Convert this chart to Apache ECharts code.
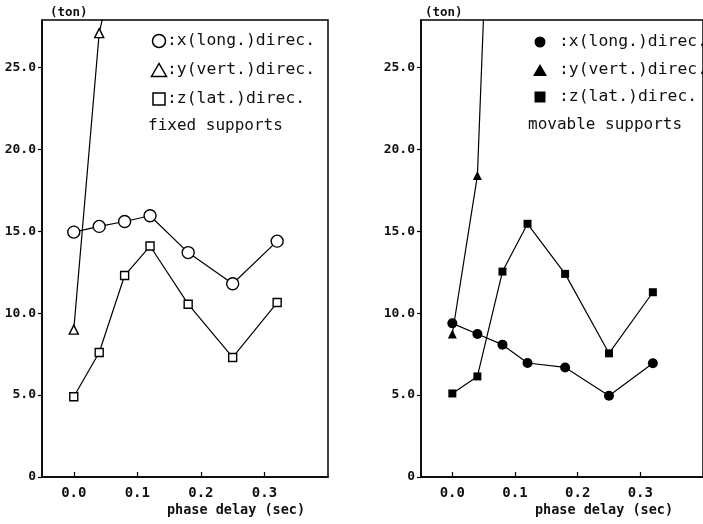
<!DOCTYPE html>
<html>
<head>
<meta charset="utf-8">
<script src="https://cdn.jsdelivr.net/npm/echarts@6/dist/echarts.min.js"></script>
<style>
  html, body { margin: 0; padding: 0; background: #fff; }
  #chart { width: 703px; height: 524px; }
</style>
</head>
<body>
<div id="chart"></div>
<script>
// Support reaction forces (ton) against phase delay (sec)
const phaseDelay = [0.0, 0.04, 0.08, 0.12, 0.18, 0.25, 0.32];

// fixed supports
const fixedX = [14.95, 15.3, 15.6, 15.95, 13.7, 11.8, 14.4];
const fixedY = [9.0, 27.1, 34.0];          // runs off the top after 0.04 s
const fixedZ = [4.9, 7.6, 12.3, 14.1, 10.55, 7.3, 10.65];

// movable supports
const movableX = [9.38, 8.73, 8.08, 6.96, 6.69, 4.96, 6.94];
const movableY = [8.73, 18.4, 58.0];       // runs off the top after 0.04 s
const movableZ = [5.1, 6.14, 12.54, 15.46, 12.4, 7.55, 11.28];

const xTicks = [0, 0.1, 0.2, 0.3];
const yTicks = [0, 5, 10, 15, 20, 25];
const legendLabels = [':x(long.)direc.', ':y(vert.)direc.', ':z(lat.)direc.'];
const panelTitles = ['fixed supports', 'movable supports'];
const unitLabel = '(ton)';
const xAxisTitle = 'phase delay (sec)';

const MONO = '"DejaVu Sans Mono", "Liberation Mono", monospace';
const INK = '#111';

const pairs = vals => vals.map((v, i) => [phaseDelay[i], v]);

// panel layout
const panels = [
  { left: 42, hollow: true, series: [fixedX, fixedY, fixedZ], title: panelTitles[0],
    symX: 159, textX: 167, titleX: 148, rows: [41, 70, 99, 126],
    unitX: 50, nameX: 236 },
  { left: 421, hollow: false, series: [movableX, movableY, movableZ], title: panelTitles[1],
    symX: 540, textX: 559, titleX: 528, rows: [42, 70, 97, 125],
    unitX: 425, nameX: 604 }
];

const grids = [], xAxes = [], yAxes = [], series = [], graphics = [];
const shapes = ['circle', 'triangle', 'rect'];

panels.forEach((p, k) => {
  grids.push({
    left: p.left, top: 20, width: 286, height: 457,
    show: true, borderColor: '#000', borderWidth: 1.5, backgroundColor: 'transparent'
  });
  xAxes.push({
    type: 'value', gridIndex: k, min: -0.05, max: 0.4,
    axisLine: { show: true, onZero: false, lineStyle: { color: '#000', width: 1.5 } },
    axisTick: { show: true, inside: true, length: 5, customValues: xTicks,
                lineStyle: { color: '#000', width: 1.2 } },
    axisLabel: { customValues: xTicks, formatter: v => v.toFixed(1), margin: 9,
                 fontFamily: MONO, fontSize: 14, fontWeight: 'bold', color: INK },
    splitLine: { show: false }
  });
  yAxes.push({
    type: 'value', gridIndex: k, min: 0, max: 27.9,
    axisLine: { show: true, onZero: false, lineStyle: { color: '#000', width: 1.5 } },
    axisTick: { show: true, inside: false, length: 4, customValues: yTicks,
                lineStyle: { color: '#000', width: 1.2 } },
    axisLabel: { customValues: yTicks, formatter: v => (v === 0 ? '0' : v.toFixed(1)), margin: 6,
                 fontFamily: MONO, fontSize: 13, fontWeight: 'bold', color: INK },
    splitLine: { show: false }
  });

  const sizes = p.hollow ? [12, 9, 8] : [10, 9, 8];
  p.series.forEach((vals, j) => {
    series.push({
      type: 'line', xAxisIndex: k, yAxisIndex: k, name: legendLabels[j],
      data: pairs(vals), clip: true,
      symbol: shapes[j], symbolSize: sizes[j], showAllSymbol: true,
      lineStyle: { color: '#000', width: 1.2 },
      itemStyle: p.hollow
        ? { color: '#fff', borderColor: '#000', borderWidth: 1.4 }
        : { color: '#000', borderColor: '#000', borderWidth: 0 },
      z: 3 + j
    });
  });

  // key
  const fill = p.hollow ? '#fff' : '#000';
  const sw = p.hollow ? 1.5 : 0;
  const cx = p.symX;
  const r0 = p.rows;
  const rad = p.hollow ? 6.5 : 5.5;
  graphics.push({ type: 'circle', shape: { cx: cx, cy: r0[0], r: rad },
                  style: { fill: fill, stroke: '#000', lineWidth: sw } });
  const tw = p.hollow ? 7.5 : 7, th = p.hollow ? 6.5 : 6;
  graphics.push({ type: 'polygon',
                  shape: { points: [[cx, r0[1] - th], [cx - tw, r0[1] + th], [cx + tw, r0[1] + th]] },
                  style: { fill: fill, stroke: '#000', lineWidth: sw } });
  const sq = p.hollow ? 12 : 11;
  graphics.push({ type: 'rect', shape: { x: cx - sq / 2, y: r0[2] - sq / 2, width: sq, height: sq },
                  style: { fill: fill, stroke: '#000', lineWidth: sw } });
  legendLabels.forEach((t, j) => {
    graphics.push({ type: 'text', x: p.textX, y: r0[j],
                    style: { text: t, font: '16.4px ' + MONO, fill: INK, verticalAlign: 'middle', align: 'left' } });
  });
  graphics.push({ type: 'text', x: p.titleX, y: r0[3],
                  style: { text: p.title, font: '16px ' + MONO, fill: INK, verticalAlign: 'middle', align: 'left' } });

  // unit and axis title
  graphics.push({ type: 'text', x: p.unitX, y: 13,
                  style: { text: unitLabel, font: 'bold 12.5px ' + MONO, fill: INK, verticalAlign: 'middle', align: 'left' } });
  graphics.push({ type: 'text', x: p.nameX, y: 510,
                  style: { text: xAxisTitle, font: 'bold 13.5px ' + MONO, fill: INK, verticalAlign: 'middle', align: 'center' } });
});

const chart = echarts.init(document.getElementById('chart'), null, { renderer: 'canvas' });
chart.setOption({
  animation: false,
  backgroundColor: '#fff',
  grid: grids,
  xAxis: xAxes,
  yAxis: yAxes,
  series: series,
  graphic: graphics
});
</script>
</body>
</html>
